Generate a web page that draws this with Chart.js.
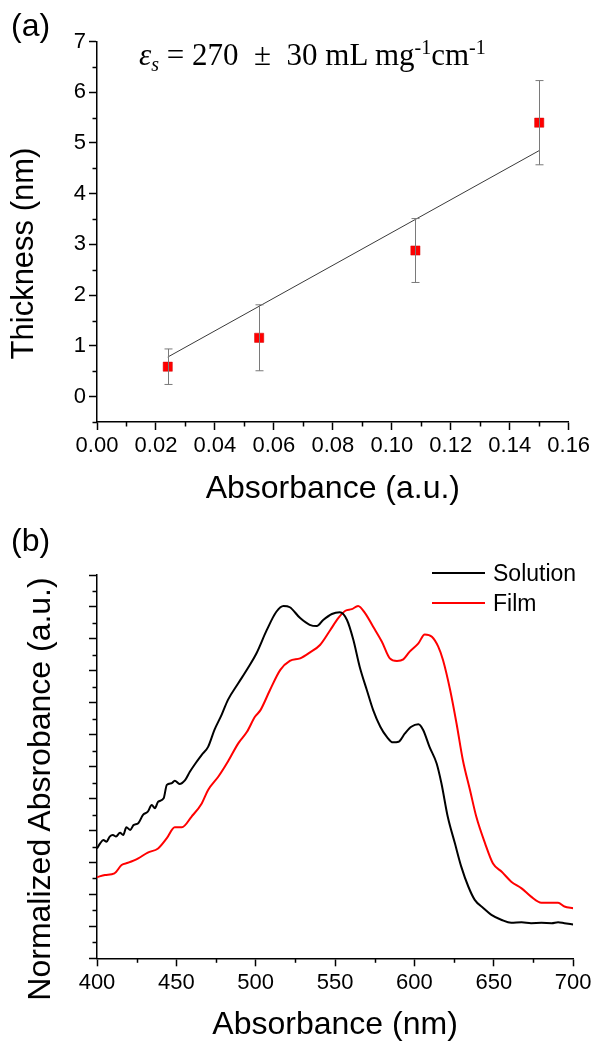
<!DOCTYPE html>
<html>
<head>
<meta charset="utf-8">
<script src="https://cdn.jsdelivr.net/npm/chart.js@4.4.1/dist/chart.umd.min.js"></script>
<style>
  html, body { margin: 0; padding: 0; background: #fff; }
  #wrap { position: relative; width: 595px; height: 1042px; overflow: hidden; font-family: 'Liberation Sans', Arial, sans-serif; color: #000; }
  canvas { position: absolute; left: 0; }
  #chartA { top: 0; }
  #chartB { top: 510px; }
  .panel { position: absolute; font-size: 32px; line-height: 32px; }
  #eq { position: absolute; left: 139px; top: 39px; font-family: 'Liberation Serif', 'Times New Roman', serif; font-size: 31px; line-height: 31px; white-space: nowrap; }
  #eq sub, #eq sup { font-size: 20px; line-height: 0; }
  #eq sub { vertical-align: -6px; }
  #eq sup { vertical-align: 11px; }
  .ytitle { position: absolute; width: 500px; text-align: center; transform: rotate(-90deg); white-space: nowrap; }
  #ytA { left: -227.7px; top: 237.5px; height: 31px; font-size: 31px; line-height: 31px; }
  #ytB { left: -211px; top: 773px; height: 32px; font-size: 32px; line-height: 32px; }
</style>
</head>
<body>
<div id="wrap">
  <canvas id="chartA" width="595" height="510"></canvas>
  <canvas id="chartB" width="595" height="532"></canvas>
  <div class="panel" style="left:11px;top:8.5px;">(a)</div>
  <div class="panel" style="left:11px;top:524px;">(b)</div>
  <div id="eq"><i>ε</i><sub><i>s</i></sub> = 270&nbsp;&nbsp;±&nbsp;&nbsp;30 mL mg<sup>-1</sup>cm<sup>-1</sup></div>
  <div class="ytitle" id="ytA">Thickness (nm)</div>
  <div class="ytitle" id="ytB">Normalized Absrobance (a.u.)</div>
</div>
<script>
// (a) film thickness against absorbance
const absA = [0.024, 0.055, 0.108, 0.150];
const thickA = [0.59, 1.16, 2.88, 5.40];
const errA = [0.35, 0.65, 0.63, 0.83];
const fitX = [0.024, 0.150];
const fitY = [0.78, 4.85];
const xTicksA = [0, 0.02, 0.04, 0.06, 0.08, 0.10, 0.12, 0.14, 0.16];
const yTicksA = [0, 1, 2, 3, 4, 5, 6, 7];

// (b) normalized spectra, solution vs film
const solNm = [400, 402, 404, 406, 408, 410, 412, 414.5, 416.5, 418.5, 421, 423, 426, 429, 432, 434.5, 436.5, 438.5, 442, 444,
  447, 449, 452, 455.5, 458.5, 462, 466, 470, 474, 478.5, 482.5, 489, 495, 500.5, 507, 513, 517.5, 521.5, 528, 534,
  538.5, 542.5, 548, 553, 557.5, 561.5, 565.5, 570, 574, 578.5, 582.5, 586.5, 590, 594, 598, 602.5, 605.5, 609.5, 614, 617,
  621, 625.5, 629.5, 634, 638, 643.5, 648.5, 655, 661, 667.5, 673.5, 680, 686.5, 690.5, 694.5, 700];
const solAbs = [0.344, 0.360, 0.370, 0.365, 0.381, 0.386, 0.381, 0.393, 0.386, 0.410, 0.402, 0.417, 0.423, 0.449, 0.459, 0.480, 0.470, 0.490, 0.501, 0.543,
  0.548, 0.556, 0.546, 0.558, 0.584, 0.610, 0.637, 0.662, 0.715, 0.762, 0.809, 0.861, 0.908, 0.955, 1.028, 1.085, 1.103, 1.099, 1.065, 1.044,
  1.040, 1.059, 1.078, 1.083, 1.059, 0.997, 0.913, 0.840, 0.777, 0.725, 0.694, 0.676, 0.678, 0.704, 0.725, 0.733, 0.715, 0.662, 0.610, 0.548,
  0.443, 0.360, 0.287, 0.224, 0.183, 0.157, 0.136, 0.120, 0.111, 0.113, 0.110, 0.111, 0.110, 0.113, 0.110, 0.106];
const filmNm = [400, 405, 411, 415.5, 419.5, 426, 432, 438.5, 444, 449, 453.5, 459.5, 466, 470, 476.5, 482.5, 489, 494.5, 499.5, 503,
  509, 515.5, 521.5, 528, 534, 540.5, 547, 552, 556.5, 560.5, 564.5, 569, 574, 579.5, 584.5, 589, 593, 597, 602.5, 606.5,
  611, 615, 618, 622.5, 626.5, 630.5, 635, 639, 644.5, 649.5, 655, 661, 667.5, 673.5, 680, 686.5, 690.5, 694.5, 700];
const filmAbs = [0.254, 0.261, 0.266, 0.292, 0.299, 0.313, 0.331, 0.344, 0.376, 0.410, 0.410, 0.443, 0.485, 0.527, 0.569, 0.616, 0.673, 0.709, 0.756, 0.777,
  0.840, 0.903, 0.931, 0.939, 0.957, 0.981, 1.028, 1.065, 1.088, 1.093, 1.103, 1.080, 1.038, 0.991, 0.939, 0.931, 0.936, 0.960, 0.986, 1.014,
  1.007, 0.976, 0.934, 0.840, 0.736, 0.621, 0.527, 0.443, 0.360, 0.297, 0.271, 0.240, 0.219, 0.193, 0.174, 0.174, 0.174, 0.162, 0.157];
const xTicksB = [400, 450, 500, 550, 600, 650, 700];
const yTicksB = [0, 0.1, 0.2, 0.3, 0.4, 0.5, 0.6, 0.7, 0.8, 0.9, 1.0, 1.1, 1.2];

const FONT = "'Liberation Sans', Arial, sans-serif";
Chart.defaults.font.family = FONT;
Chart.defaults.color = '#000';

const toXY = (xs, ys) => xs.map((x, i) => ({ x: x, y: ys[i] }));

// half-way ticks between the labelled ones
const minorsOf = (ticks, min, max) => {
  const step = ticks[1] - ticks[0];
  const out = [];
  for (let v = ticks[0] - step / 2; v <= max + 1e-9; v += step) {
    if (v >= min - 1e-9) out.push(v);
  }
  return out;
};

const minorTicks = {
  id: 'minorTicks',
  afterDraw(chart, args, opts) {
    const ctx = chart.ctx;
    ctx.save();
    ctx.strokeStyle = '#000';
    ctx.lineWidth = 1.5;
    ['x', 'y'].forEach((id) => {
      const s = chart.scales[id];
      (opts[id] || []).forEach((v) => {
        const p = Math.round(s.getPixelForValue(v)) + 0.5;
        ctx.beginPath();
        if (id === 'x') {
          ctx.moveTo(p, s.top);
          ctx.lineTo(p, s.top + 4.5);
        } else {
          ctx.moveTo(s.right, p);
          ctx.lineTo(s.right - 4.5, p);
        }
        ctx.stroke();
      });
    });
    ctx.restore();
  },
};

const errorBars = {
  id: 'errorBars',
  afterDatasetsDraw(chart) {
    const ctx = chart.ctx;
    const xs = chart.scales.x;
    const ys = chart.scales.y;
    ctx.save();
    ctx.strokeStyle = '#7a7a7a';
    ctx.lineWidth = 1;
    absA.forEach((a, i) => {
      const x = Math.round(xs.getPixelForValue(a)) + 0.5;
      const lo = ys.getPixelForValue(thickA[i] - errA[i]);
      const hi = ys.getPixelForValue(thickA[i] + errA[i]);
      ctx.beginPath();
      ctx.moveTo(x, lo); ctx.lineTo(x, hi);
      ctx.moveTo(x - 4, lo); ctx.lineTo(x + 4, lo);
      ctx.moveTo(x - 4, hi); ctx.lineTo(x + 4, hi);
      ctx.stroke();
    });
    ctx.restore();
  },
};

const lineLegend = {
  id: 'lineLegend',
  afterDraw(chart, args, opts) {
    const ctx = chart.ctx;
    ctx.save();
    ctx.font = '23px ' + FONT;
    ctx.textBaseline = 'middle';
    chart.data.datasets.forEach((ds, i) => {
      const y = opts.y + i * opts.gap;
      ctx.strokeStyle = ds.borderColor;
      ctx.lineWidth = 2;
      ctx.beginPath();
      ctx.moveTo(opts.x, y);
      ctx.lineTo(opts.x + opts.len, y);
      ctx.stroke();
      ctx.fillStyle = '#000';
      ctx.fillText(ds.label, opts.x + opts.len + 8, y + 2);
    });
    ctx.restore();
  },
};

const axisLine = { display: true, color: '#000', width: 1.5 };
const tickMarks = { drawOnChartArea: false, drawTicks: true, tickLength: 8, tickColor: '#000', tickWidth: 1.5 };

new Chart(document.getElementById('chartA'), {
  type: 'scatter',
  data: {
    datasets: [
      {
        label: 'fit',
        data: toXY(fitX, fitY),
        showLine: true,
        borderColor: '#3a3a3a',
        borderWidth: 1,
        pointRadius: 0,
      },
      {
        label: 'thickness',
        data: toXY(absA, thickA),
        pointStyle: 'rect',
        pointRadius: 6.5,
        backgroundColor: '#ff0000',
        borderColor: '#d00000',
        borderWidth: 0.5,
      },
    ],
  },
  options: {
    responsive: false,
    animation: false,
    events: [],
    layout: { padding: { left: 0, right: 26.3, top: 41.5, bottom: 0 } },
    scales: {
      x: {
        type: 'linear',
        min: 0,
        max: 0.16,
        afterBuildTicks: (s) => { s.ticks = xTicksA.map((v) => ({ value: v })); },
        afterFit: (s) => { s.height = 88; },
        ticks: { font: { size: 22 }, padding: 2.5, maxRotation: 0, callback: (v) => v.toFixed(2) },
        grid: tickMarks,
        border: axisLine,
        title: { display: true, text: 'Absorbance (a.u.)', font: { size: 32, lineHeight: 1 }, padding: { top: 0, bottom: 4.6 } },
      },
      y: {
        min: -0.5,
        max: 7,
        afterBuildTicks: (s) => { s.ticks = yTicksA.map((v) => ({ value: v })); },
        afterFit: (s) => { s.width = 97; },
        ticks: { font: { size: 22 }, padding: 3 },
        grid: tickMarks,
        border: axisLine,
      },
    },
    plugins: {
      legend: { display: false },
      tooltip: { enabled: false },
      minorTicks: { x: minorsOf(xTicksA, 0, 0.16), y: minorsOf(yTicksA, -0.5, 7) },
    },
  },
  plugins: [errorBars, minorTicks],
});

new Chart(document.getElementById('chartB'), {
  type: 'line',
  data: {
    datasets: [
      { label: 'Solution', data: toXY(solNm, solAbs), borderColor: '#000000', borderWidth: 2, pointRadius: 0, cubicInterpolationMode: 'monotone' },
      { label: 'Film', data: toXY(filmNm, filmAbs), borderColor: '#ff0000', borderWidth: 2, pointRadius: 0, cubicInterpolationMode: 'monotone' },
    ],
  },
  options: {
    responsive: false,
    animation: false,
    events: [],
    layout: { padding: { left: 0, right: 21.7, top: 65, bottom: 0 } },
    scales: {
      x: {
        type: 'linear',
        min: 400,
        max: 700,
        afterBuildTicks: (s) => { s.ticks = xTicksB.map((v) => ({ value: v })); },
        afterFit: (s) => { s.height = 83.7; },
        ticks: { font: { size: 22 }, padding: 3.5, maxRotation: 0 },
        grid: tickMarks,
        border: axisLine,
        title: { display: true, text: 'Absorbance (nm)', font: { size: 32, lineHeight: 1 }, padding: { top: 0, bottom: 0.4 } },
      },
      y: {
        min: 0,
        max: 1.2,
        afterBuildTicks: (s) => { s.ticks = yTicksB.map((v) => ({ value: v })); },
        afterFit: (s) => { s.width = 97; },
        ticks: { display: false },
        grid: tickMarks,
        border: axisLine,
      },
    },
    plugins: {
      legend: { display: false },
      tooltip: { enabled: false },
      minorTicks: { x: minorsOf(xTicksB, 400, 700), y: minorsOf(yTicksB, 0, 1.2) },
      lineLegend: { x: 432, y: 63, gap: 30, len: 53 },
    },
  },
  plugins: [minorTicks, lineLegend],
});
</script>
</body>
</html>
